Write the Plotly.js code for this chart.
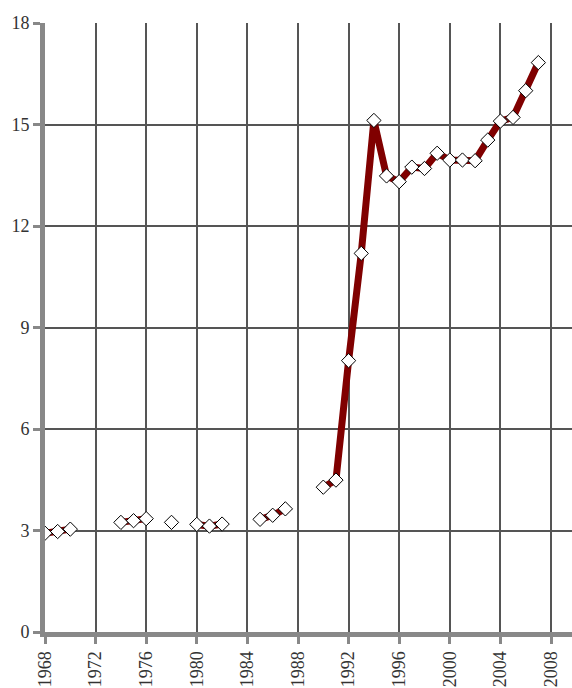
<!DOCTYPE html>
<html><head><meta charset="utf-8">
<script src="https://cdn.plot.ly/plotly-3.0.1.min.js"></script>
<style>html,body{margin:0;padding:0;background:#fff}#c{width:572px;height:688px}</style>
</head><body><div id="c"></div>
<script>
const years = [1968,1969,1970,1971,1972,1973,1974,1975,1976,1977,1978,1979,1980,1981,1982,1983,1984,1985,1986,1987,1988,1989,1990,1991,1992,1993,1994,1995,1996,1997,1998,1999,2000,2001,2002,2003,2004,2005,2006,2007];
const values = [2.92,2.97,3.04,null,null,null,3.24,3.29,3.35,null,3.24,null,3.18,3.13,3.19,null,null,3.33,3.45,3.64,null,null,4.28,4.49,8.02,11.19,15.12,13.48,13.31,13.74,13.70,14.15,13.95,13.95,13.93,14.54,15.10,15.21,16.0,16.83];
const xTicks = [1968,1972,1976,1980,1984,1988,1992,1996,2000,2004,2008];
const yTicks = [0,3,6,9,12,15,18];

const font = {family:'"Liberation Serif","Times New Roman",serif', size:18, color:'#333'};
Plotly.newPlot('c', [{
  x: years, y: values, type:'scatter', mode:'lines+markers', connectgaps:false,
  line:{color:'#800000', width:7},
  marker:{symbol:'diamond', size:11, color:'#fff', line:{color:'#000', width:1}},
  hoverinfo:'skip'
}], {
  width:572, height:688,
  margin:{l:45, r:0, t:23, b:56},
  paper_bgcolor:'#fff', plot_bgcolor:'#fff',
  showlegend:false,
  font: font,
  xaxis:{range:[1968,2009.66], tickvals:xTicks, ticktext:xTicks.map(String), tickangle:-90,
    showgrid:true, gridcolor:'#555', gridwidth:2, zeroline:false,
    showline:true, linecolor:'#888', linewidth:5,
    ticks:'outside', ticklen:7, tickwidth:3, tickcolor:'#888', tickfont:font},
  yaxis:{range:[0,18], tickvals:yTicks, showgrid:true, gridcolor:'#555', gridwidth:2, zeroline:false,
    showline:true, linecolor:'#888', linewidth:5,
    ticks:'outside', ticklen:7, tickwidth:3, tickcolor:'#888', tickfont:font}
}, {staticPlot:true});
</script></body></html>
